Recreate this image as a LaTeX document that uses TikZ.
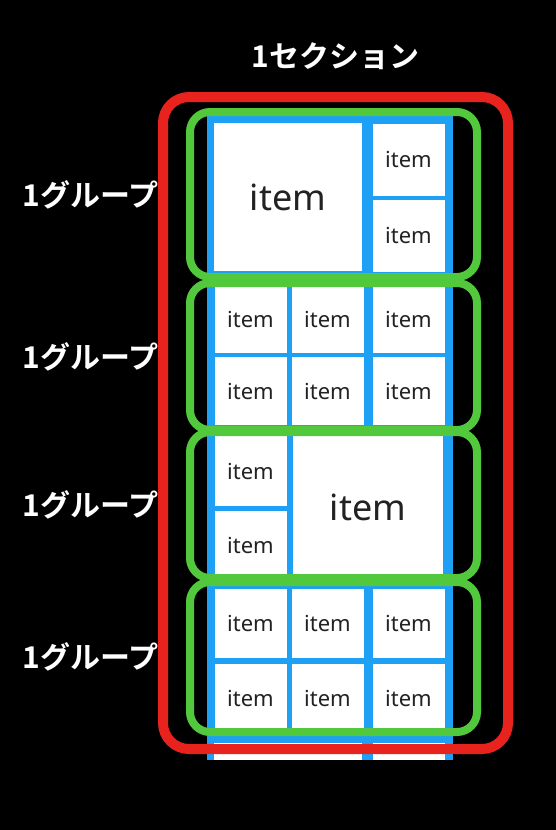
\documentclass[tikz,border=0pt]{standalone}
\usepackage{fontspec}
\setmainfont{Noto Sans}
\newfontfamily\jpfont{Noto Sans CJK JP}[BoldFont=* Bold]
\usetikzlibrary{positioning}
\definecolor{colblue}{HTML}{1EA0F5}
\definecolor{grpgreen}{HTML}{52C93C}
\definecolor{secred}{HTML}{E8231E}
\definecolor{itemgray}{HTML}{222222}
\tikzset{
  cell/.style={fill=white, inner sep=0pt, minimum width=72pt, minimum height=70pt,
    text=itemgray, font=\fontsize{22}{22}\selectfont},
  bigcell/.style={cell, font=\fontsize{36}{36}\selectfont},
  group/.style={draw=grpgreen, line width=8pt, rounded corners=20pt, inner sep=0pt},
  section/.style={draw=secred, line width=10pt, rounded corners=26pt, inner sep=0pt},
  jlabel/.style={text=white, inner sep=0pt, font=\jpfont\bfseries\fontsize{30}{30}\selectfont}
}
\begin{document}
\begin{tikzpicture}[x=1pt,y=-1pt]
\useasboundingbox (0,0) rectangle (556,830);
\fill[black] (0,0) rectangle (556,830);
% the column
\fill[colblue] (207,116) rectangle (453,760);

% group 1
\node[bigcell, minimum width=148pt, minimum height=148pt] (big1) at (288,197) {item};
\node[cell, minimum height=72pt] (g1-1) at (408.5,159.5) {item};
\node[cell, minimum height=72pt] (g1-2) at (408.5,235.5) {item};

% groups 2 and 4
\foreach \g/\ya/\yb/\h in {2/319/391/68, 4/623.5/698.5/69}{
  \foreach \c/\x in {1/250.5, 2/327.5, 3/408.5}{
    \node[cell, minimum height=\h pt] (g\g-a\c) at (\x,\ya) {item};
    \node[cell, minimum height=\h pt] (g\g-b\c) at (\x,\yb) {item};
  }
}

% group 3
\node[cell] (g3-1) at (250.5,471) {item};
\node[cell] (g3-2) at (250.5,545.5) {item};
\node[bigcell, minimum width=150pt, minimum height=145pt] (big3) at (368,507.5) {item};

% next group, cut off
\node[cell, minimum width=148pt, minimum height=17pt] (g5-1) at (288,751.5) {};
\node[cell, minimum height=17pt] (g5-2) at (408.5,751.5) {};

% groups
\node[group, minimum width=287pt, minimum height=165pt] (grp1) at (333.5,194.5) {};
\node[group, minimum width=287pt, minimum height=147pt] (grp2) at (333.5,356.5) {};
\node[group, minimum width=287pt, minimum height=146pt] (grp3) at (333.5,505) {};
\node[group, minimum width=287pt, minimum height=150pt] (grp4) at (333.5,657) {};

% section
\node[section, minimum width=345pt, minimum height=652pt] (sect) at (335.5,423) {};

% labels
\node[jlabel, above=22pt of sect] (title) {1セクション};
\foreach \i in {1,...,4}{
  \node[jlabel, left=27pt of grp\i] (lab\i) {1グループ};
}
\end{tikzpicture}
\end{document}
